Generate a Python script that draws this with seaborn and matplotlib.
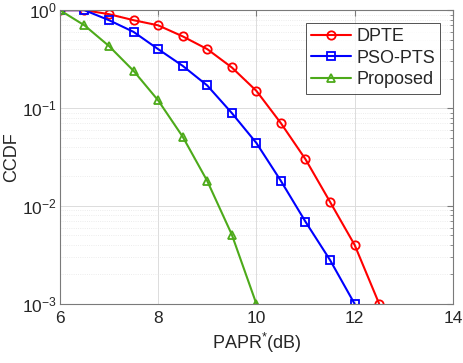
import numpy as np
import pandas as pd
import matplotlib
matplotlib.use("Agg")
import matplotlib.pyplot as plt
import seaborn as sns

# --- data ---
papr_dpte = [6, 6.5, 7, 7.5, 8, 8.5, 9, 9.5, 10, 10.5, 11, 11.5, 12, 12.5]
ccdf_dpte = [1.0, 1.0, 0.91, 0.79, 0.70, 0.54, 0.40, 0.26, 0.15, 0.070, 0.030, 0.011, 0.0040, 0.001]

papr_pso = [6, 6.5, 7, 7.5, 8, 8.5, 9, 9.5, 10, 10.5, 11, 11.5, 12]
ccdf_pso = [1.0, 1.0, 0.79, 0.60, 0.40, 0.27, 0.17, 0.089, 0.044, 0.018, 0.0069, 0.0028, 0.001]

papr_prop = [6, 6.5, 7, 7.5, 8, 8.5, 9, 9.5, 10]
ccdf_prop = [1.0, 0.70, 0.43, 0.24, 0.12, 0.051, 0.018, 0.0051, 0.001]

series_names = ["DPTE", "PSO-PTS", "Proposed"]
xticks = [6, 8, 10, 12, 14]


def set_style():
    sns.set_style("white")
    plt.rcParams['font.family'] = ['Liberation Sans', 'DejaVu Sans']
    plt.rcParams['mathtext.fontset'] = 'custom'
    plt.rcParams['mathtext.rm'] = 'Liberation Sans'
    plt.rcParams['mathtext.it'] = 'Liberation Sans'
    plt.rcParams['xtick.direction'] = 'in'
    plt.rcParams['ytick.direction'] = 'in'


def plot_results():
    set_style()

    df = pd.concat([
        pd.DataFrame({"PAPR": papr_dpte, "CCDF": ccdf_dpte, "Method": series_names[0]}),
        pd.DataFrame({"PAPR": papr_pso, "CCDF": ccdf_pso, "Method": series_names[1]}),
        pd.DataFrame({"PAPR": papr_prop, "CCDF": ccdf_prop, "Method": series_names[2]}),
    ], ignore_index=True)

    palette = {"DPTE": "#ff0000", "PSO-PTS": "#0000ff", "Proposed": "#4daa1a"}
    markers = {"DPTE": "o", "PSO-PTS": "s", "Proposed": "^"}

    fig = plt.figure(figsize=(4.64, 3.63), dpi=100)
    ax = fig.add_axes([0.129, 0.163, 0.847, 0.809])

    sns.lineplot(data=df, x="PAPR", y="CCDF", hue="Method", style="Method",
                 palette=palette, markers=markers, dashes=False,
                 linewidth=1.5, markersize=6, markerfacecolor="none",
                 markeredgewidth=1.3, ax=ax)
    for line in ax.lines:
        line.set_markerfacecolor("none")
        line.set_markeredgecolor(line.get_color())

    ax.set_yscale("log")
    ax.set_xlim(6, 14)
    ax.set_ylim(1e-3, 1)
    ax.set_xticks(xticks)
    ax.set_xticklabels([str(t) for t in xticks])

    ax.grid(True, which="major", color="#dcdcdc", linewidth=0.7)
    ax.grid(True, which="minor", axis="y", color="#e6e6e6", linewidth=0.6, linestyle=":")
    ax.tick_params(which="both", top=True, right=True, labelsize=12.5, labelcolor="#262626",
                   color="#7a7a7a", length=4)
    ax.tick_params(axis="x", pad=5)
    ax.tick_params(axis="y", pad=2)
    ax.tick_params(which="minor", length=2.5)
    for s in ax.spines.values():
        s.set_color("#7a7a7a")
        s.set_linewidth(0.8)

    ax.set_xlabel("PAPR$^{*}$(dB)", fontsize=13, labelpad=4)
    ax.set_ylabel("CCDF", fontsize=13)
    ax.yaxis.set_label_coords(-0.1, 0.5)

    leg = ax.legend(loc="upper right", fontsize=13, frameon=True, fancybox=False,
                    edgecolor="#262626", handlelength=2.2, handletextpad=0.3,
                    borderpad=0.3, labelspacing=0.25, borderaxespad=0.7)
    leg.get_frame().set_linewidth(0.7)
    for h in leg.get_lines():
        h.set_markerfacecolor("none")

    plt.savefig("out.png", dpi=100)


if __name__ == "__main__":
    plot_results()
